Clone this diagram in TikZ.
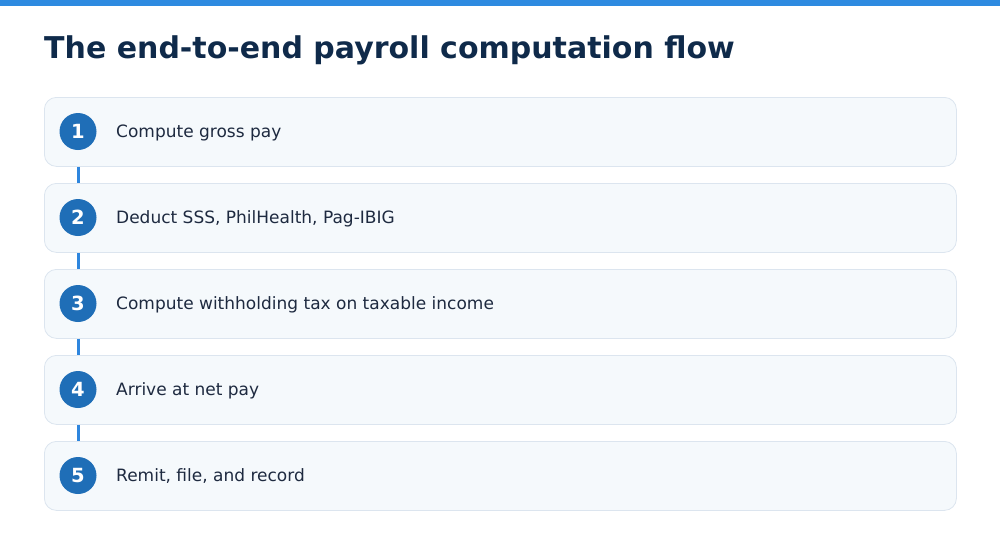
\documentclass[tikz,border=0pt]{standalone}
\usepackage{fontspec}
\setmainfont{DejaVu Sans}
\usepackage{xcolor}
\usetikzlibrary{positioning}
\definecolor{topbar}{HTML}{2E8AE0}
\definecolor{titlecol}{HTML}{0F2A4A}
\definecolor{boxfill}{HTML}{F5F9FC}
\definecolor{boxline}{HTML}{DCE5EF}
\definecolor{badge}{HTML}{1F6EB7}
\definecolor{link}{HTML}{2E86DE}
\definecolor{stepcol}{HTML}{1E2A40}
\tikzset{
  stepbox/.style={draw=boxline,fill=boxfill,line width=0.8pt,rounded corners=12pt,
    minimum width=912pt,minimum height=69pt,inner sep=0pt,anchor=north west},
  badgenode/.style={circle,fill=badge,text=white,minimum size=37pt,inner sep=0pt,
    font=\fontsize{19.5}{19.5}\selectfont\bfseries},
  steptext/.style={anchor=west,text=stepcol,inner sep=0pt,font=\fontsize{17}{20}\selectfont},
  linkline/.style={draw=link,line width=3pt}
}

\begin{document}
\begin{tikzpicture}[x=1pt,y=-1pt]
  \useasboundingbox (0,0) rectangle (1000,536);
  \fill[topbar] (0,0) rectangle (1000,6);
  \node[anchor=base west,inner sep=0pt,text=titlecol,font=\fontsize{30}{34}\selectfont\bfseries]
    (title) at (44,58.5) {The end-to-end payroll computation flow};
  % the five steps
  \foreach \n/\label in {1/Compute gross pay,
                         2/{Deduct SSS, PhilHealth, Pag-IBIG},
                         3/Compute withholding tax on taxable income,
                         4/Arrive at net pay,
                         5/{Remit, file, and record}}
  {
    \node[stepbox] (box\n) at (44,{97+86*(\n-1)}) {};
    \node[badgenode] (num\n) at (78,{131.5+86*(\n-1)}) {\n};
    \node[steptext] (txt\n) at (116,{132.5+86*(\n-1)}) {\label};
  }
  % links between steps
  \foreach \a/\b in {1/2,2/3,3/4,4/5}
    \draw[linkline] (box\a.south -| num\a) -- (box\b.north -| num\b);
\end{tikzpicture}
\end{document}
